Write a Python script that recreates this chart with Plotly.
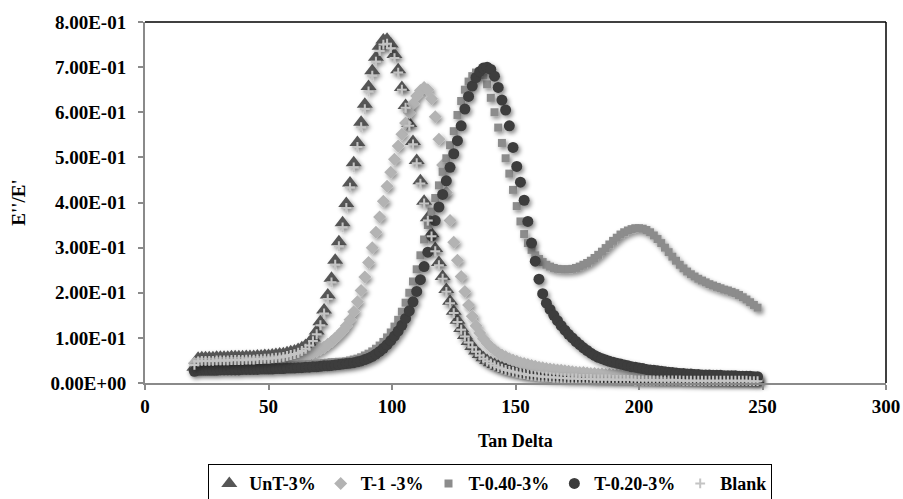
import plotly.graph_objects as go

# Temperature samples (x axis)
temp = [20.0, 21.5, 23.0, 24.5, 26.0, 27.5, 29.0, 30.5, 32.0, 33.5,
        35.0, 36.5, 38.0, 39.5, 41.0, 42.5, 44.0, 45.5, 47.0, 48.5,
        50.0, 51.5, 53.0, 54.5, 56.0, 57.5, 59.0, 60.5, 62.0, 63.5,
        65.0, 66.5, 68.0, 69.5, 71.0, 72.5, 74.0, 75.5, 77.0, 78.5,
        80.0, 81.5, 83.0, 84.5, 86.0, 87.5, 89.0, 90.5, 92.0, 93.5,
        95.0, 96.5, 98.0, 99.5, 101.0, 102.5, 104.0, 105.5, 107.0, 108.5,
        110.0, 111.5, 113.0, 114.5, 116.0, 117.5, 119.0, 120.5, 122.0, 123.5,
        125.0, 126.5, 128.0, 129.5, 131.0, 132.5, 134.0, 135.5, 137.0, 138.5,
        140.0, 141.5, 143.0, 144.5, 146.0, 147.5, 149.0, 150.5, 152.0, 153.5,
        155.0, 156.5, 158.0, 159.5, 161.0, 162.5, 164.0, 165.5, 167.0, 168.5,
        170.0, 171.5, 173.0, 174.5, 176.0, 177.5, 179.0, 180.5, 182.0, 183.5,
        185.0, 186.5, 188.0, 189.5, 191.0, 192.5, 194.0, 195.5, 197.0, 198.5,
        200.0, 201.5, 203.0, 204.5, 206.0, 207.5, 209.0, 210.5, 212.0, 213.5,
        215.0, 216.5, 218.0, 219.5, 221.0, 222.5, 224.0, 225.5, 227.0, 228.5,
        230.0, 231.5, 233.0, 234.5, 236.0, 237.5, 239.0, 240.5, 242.0, 243.5,
        245.0, 246.5, 248.0]

unt_3 = [0.035, 0.055, 0.056, 0.056, 0.056, 0.056, 0.057, 0.057, 0.057, 0.057,
         0.058, 0.058, 0.058, 0.058, 0.059, 0.059, 0.059, 0.060, 0.060, 0.061,
         0.061, 0.062, 0.063, 0.064, 0.065, 0.067, 0.069, 0.071, 0.074, 0.078,
         0.083, 0.090, 0.100, 0.115, 0.136, 0.162, 0.195, 0.232, 0.272, 0.313,
         0.355, 0.398, 0.443, 0.488, 0.533, 0.578, 0.618, 0.657, 0.692, 0.722,
         0.746, 0.760, 0.762, 0.751, 0.728, 0.694, 0.655, 0.615, 0.575, 0.535,
         0.493, 0.448, 0.403, 0.366, 0.331, 0.298, 0.267, 0.236, 0.207, 0.181,
         0.159, 0.139, 0.121, 0.105, 0.092, 0.081, 0.071, 0.063, 0.056, 0.050,
         0.045, 0.041, 0.037, 0.034, 0.031, 0.028, 0.026, 0.024, 0.022, 0.021,
         0.019, 0.018, 0.017, 0.016, 0.015, 0.015, 0.014, 0.013, 0.013, 0.012,
         0.012, 0.011, 0.011, 0.011, 0.010, 0.010, 0.010, 0.010, 0.009, 0.009,
         0.009, 0.009, 0.009, 0.008, 0.008, 0.008, 0.008, 0.008, 0.008, 0.007,
         0.007, 0.007, 0.007, 0.007, 0.007, 0.007, 0.006, 0.006, 0.006, 0.006,
         0.006, 0.006, 0.006, 0.006, 0.006, 0.006, 0.005, 0.005, 0.005, 0.005,
         0.005, 0.005, 0.005, 0.005, 0.005, 0.005, 0.005, 0.005, 0.005, 0.005,
         0.005, 0.005, 0.004]

t1_3 = [0.044, 0.045, 0.045, 0.045, 0.045, 0.045, 0.046, 0.046, 0.046, 0.046,
        0.046, 0.046, 0.047, 0.047, 0.047, 0.047, 0.048, 0.048, 0.048, 0.049,
        0.049, 0.050, 0.050, 0.051, 0.052, 0.053, 0.054, 0.055, 0.057, 0.059,
        0.061, 0.064, 0.067, 0.071, 0.075, 0.080, 0.086, 0.092, 0.099, 0.107,
        0.116, 0.127, 0.140, 0.158, 0.180, 0.205, 0.235, 0.267, 0.300, 0.334,
        0.368, 0.403, 0.436, 0.467, 0.496, 0.525, 0.551, 0.576, 0.599, 0.619,
        0.636, 0.648, 0.655, 0.650, 0.630, 0.590, 0.540, 0.483, 0.422, 0.360,
        0.312, 0.272, 0.236, 0.203, 0.173, 0.148, 0.127, 0.111, 0.098, 0.088,
        0.080, 0.073, 0.067, 0.062, 0.058, 0.054, 0.051, 0.048, 0.045, 0.043,
        0.041, 0.039, 0.037, 0.035, 0.034, 0.032, 0.031, 0.030, 0.029, 0.028,
        0.027, 0.026, 0.025, 0.024, 0.023, 0.023, 0.022, 0.021, 0.021, 0.020,
        0.020, 0.019, 0.019, 0.018, 0.018, 0.017, 0.017, 0.017, 0.016, 0.016,
        0.016, 0.015, 0.015, 0.015, 0.014, 0.014, 0.014, 0.014, 0.013, 0.013,
        0.013, 0.013, 0.013, 0.012, 0.012, 0.012, 0.012, 0.012, 0.011, 0.011,
        0.011, 0.011, 0.011, 0.011, 0.010, 0.010, 0.010, 0.010, 0.010, 0.010,
        0.010, 0.010, 0.009]

t040_3 = [0.034, 0.036, 0.036, 0.036, 0.036, 0.036, 0.036, 0.036, 0.037, 0.037,
          0.037, 0.037, 0.037, 0.037, 0.037, 0.038, 0.038, 0.038, 0.038, 0.038,
          0.038, 0.038, 0.039, 0.039, 0.039, 0.039, 0.040, 0.040, 0.040, 0.041,
          0.041, 0.042, 0.042, 0.043, 0.043, 0.044, 0.045, 0.046, 0.046, 0.047,
          0.047, 0.048, 0.050, 0.052, 0.054, 0.057, 0.061, 0.065, 0.070, 0.076,
          0.083, 0.091, 0.101, 0.112, 0.125, 0.140, 0.158, 0.178, 0.200, 0.225,
          0.252, 0.283, 0.318, 0.350, 0.380, 0.410, 0.438, 0.468, 0.498, 0.527,
          0.558, 0.594, 0.625, 0.650, 0.668, 0.680, 0.688, 0.690, 0.682, 0.662,
          0.632, 0.600, 0.566, 0.532, 0.498, 0.464, 0.428, 0.392, 0.358, 0.330,
          0.310, 0.295, 0.283, 0.275, 0.268, 0.262, 0.258, 0.255, 0.253, 0.252,
          0.252, 0.252, 0.253, 0.255, 0.258, 0.262, 0.266, 0.271, 0.277, 0.284,
          0.291, 0.299, 0.307, 0.315, 0.322, 0.329, 0.334, 0.338, 0.341, 0.343,
          0.343, 0.342, 0.339, 0.334, 0.327, 0.319, 0.310, 0.300, 0.290, 0.280,
          0.271, 0.262, 0.254, 0.247, 0.241, 0.236, 0.231, 0.227, 0.223, 0.219,
          0.216, 0.213, 0.210, 0.207, 0.205, 0.202, 0.199, 0.195, 0.190, 0.185,
          0.179, 0.173, 0.167]

t020_3 = [0.026, 0.028, 0.028, 0.028, 0.028, 0.028, 0.028, 0.029, 0.029, 0.029,
          0.029, 0.029, 0.029, 0.030, 0.030, 0.030, 0.030, 0.030, 0.031, 0.031,
          0.031, 0.031, 0.032, 0.032, 0.032, 0.033, 0.033, 0.033, 0.034, 0.034,
          0.035, 0.035, 0.036, 0.036, 0.037, 0.038, 0.038, 0.039, 0.040, 0.041,
          0.042, 0.043, 0.044, 0.045, 0.047, 0.049, 0.052, 0.055, 0.059, 0.064,
          0.070, 0.077, 0.085, 0.094, 0.104, 0.115, 0.128, 0.143, 0.160, 0.180,
          0.203, 0.229, 0.258, 0.290, 0.326, 0.360, 0.390, 0.418, 0.448, 0.478,
          0.508, 0.537, 0.570, 0.607, 0.635, 0.658, 0.677, 0.690, 0.698, 0.700,
          0.695, 0.680, 0.655, 0.627, 0.605, 0.570, 0.522, 0.480, 0.445, 0.405,
          0.358, 0.310, 0.270, 0.230, 0.198, 0.177, 0.163, 0.150, 0.138, 0.127,
          0.117, 0.108, 0.100, 0.092, 0.085, 0.078, 0.072, 0.066, 0.061, 0.057,
          0.054, 0.051, 0.048, 0.046, 0.044, 0.042, 0.040, 0.038, 0.036, 0.035,
          0.033, 0.032, 0.030, 0.029, 0.028, 0.027, 0.026, 0.025, 0.024, 0.023,
          0.022, 0.021, 0.021, 0.020, 0.020, 0.019, 0.019, 0.018, 0.018, 0.018,
          0.017, 0.017, 0.017, 0.016, 0.016, 0.016, 0.016, 0.015, 0.015, 0.015,
          0.015, 0.014, 0.014]

blank = [0.040, 0.048, 0.049, 0.049, 0.049, 0.049, 0.050, 0.050, 0.050, 0.050,
         0.051, 0.051, 0.051, 0.051, 0.052, 0.052, 0.052, 0.053, 0.053, 0.054,
         0.054, 0.055, 0.056, 0.057, 0.058, 0.060, 0.062, 0.064, 0.067, 0.071,
         0.076, 0.083, 0.093, 0.108, 0.128, 0.154, 0.186, 0.223, 0.262, 0.303,
         0.345, 0.388, 0.433, 0.478, 0.523, 0.567, 0.607, 0.646, 0.681, 0.712,
         0.736, 0.750, 0.752, 0.742, 0.720, 0.688, 0.650, 0.610, 0.570, 0.529,
         0.487, 0.442, 0.398, 0.360, 0.325, 0.292, 0.261, 0.231, 0.202, 0.177,
         0.155, 0.135, 0.118, 0.103, 0.090, 0.079, 0.069, 0.061, 0.054, 0.048,
         0.043, 0.039, 0.035, 0.032, 0.029, 0.027, 0.025, 0.023, 0.021, 0.020,
         0.018, 0.017, 0.016, 0.015, 0.014, 0.014, 0.013, 0.012, 0.012, 0.011,
         0.011, 0.010, 0.010, 0.010, 0.009, 0.009, 0.009, 0.009, 0.008, 0.008,
         0.008, 0.008, 0.008, 0.007, 0.007, 0.007, 0.007, 0.007, 0.007, 0.006,
         0.006, 0.006, 0.006, 0.006, 0.006, 0.006, 0.006, 0.006, 0.006, 0.006,
         0.006, 0.006, 0.005, 0.005, 0.005, 0.005, 0.005, 0.005, 0.005, 0.005,
         0.005, 0.005, 0.005, 0.005, 0.005, 0.005, 0.005, 0.005, 0.005, 0.005,
         0.004, 0.004, 0.004]

series_names = ["UnT-3%", "T-1 -3%", "T-0.40-3%", "T-0.20-3%", "Blank"]
y_tick_vals = [0.0, 0.1, 0.2, 0.3, 0.4, 0.5, 0.6, 0.7, 0.8]
y_tick_text = ["0.00E+00", "1.00E-01", "2.00E-01", "3.00E-01", "4.00E-01",
               "5.00E-01", "6.00E-01", "7.00E-01", "8.00E-01"]
x_tick_vals = [0, 50, 100, 150, 200, 250, 300]

for s in (unt_3, t1_3, t040_3, t020_3, blank):
    assert len(s) == len(temp), len(s)

styles = [
    dict(symbol="triangle-up", size=14, color="#565656"),
    dict(symbol="diamond", size=10, color="#b3b3b3"),
    dict(symbol="square", size=8, color="#8c8c8c"),
    dict(symbol="circle", size=11, color="#3c3c3c"),
    dict(symbol="cross-thin", size=7, color="#c4c4c4", line=dict(width=2, color="#c4c4c4")),
]

fig = go.Figure()
for name, ys, st in zip(series_names, [unt_3, t1_3, t040_3, t020_3, blank], styles):
    m = dict(st)
    if "line" not in m:
        m["line"] = dict(width=0)
    fig.add_trace(go.Scatter(x=temp, y=ys, mode="markers", name=name,
                             marker=m, cliponaxis=False))

font_fam = "Liberation Serif, Times New Roman, serif"
fig.update_layout(
    width=903, height=499,
    margin=dict(l=145, r=17, t=22, b=116, autoexpand=False),
    paper_bgcolor="white", plot_bgcolor="white",
    font=dict(family=font_fam, size=19, color="black", weight="bold"),
    showlegend=True,
    legend=dict(orientation="h", x=0.466, xanchor="center", y=-0.225, yanchor="top",
                bordercolor="black", borderwidth=1, bgcolor="white",
                font=dict(family=font_fam, size=18, color="black", weight="bold"),
                itemwidth=30, tracegroupgap=0),
    xaxis=dict(range=[0, 300], tickvals=x_tick_vals, showgrid=False, zeroline=False,
               showline=True, linecolor="#8a8a8a", linewidth=2,
               ticks="outside", ticklen=5, tickcolor="#8a8a8a", tickwidth=1.5,
               tickfont=dict(family=font_fam, size=19, color="black", weight="bold")),
    yaxis=dict(range=[0, 0.8], tickvals=y_tick_vals, ticktext=y_tick_text,
               showgrid=False, zeroline=False,
               showline=True, linecolor="#8a8a8a", linewidth=2,
               ticks="outside", ticklen=5, tickcolor="#8a8a8a", tickwidth=1.5,
               ticklabelstandoff=8,
               tickfont=dict(family=font_fam, size=19, color="black", weight="bold")),
    annotations=[
        dict(text="Tan Delta", xref="paper", yref="paper", x=0.5, y=-0.16,
             xanchor="center", yanchor="middle", showarrow=False,
             font=dict(family=font_fam, size=18, color="black", weight="bold")),
        dict(text="E''/E'", xref="paper", yref="paper", x=-0.171, y=0.5,
             xanchor="center", yanchor="middle", showarrow=False, textangle=-90,
             font=dict(family=font_fam, size=19, color="black", weight="bold")),
    ],
    shapes=[
        dict(type="line", xref="paper", yref="paper", x0=0, x1=1, y0=1, y1=1,
             line=dict(color="black", width=1.5)),
        dict(type="line", xref="paper", yref="paper", x0=1, x1=1, y0=0, y1=1,
             line=dict(color="black", width=1.5)),
    ],
)

post = """
document.documentElement.style.margin = '0';
document.body.style.margin = '0';
document.body.style.padding = '0';
var gd = document.getElementById('{plot_id}');
function addShadow(){
  var svg = gd.querySelector('svg.main-svg');
  if(!svg) return;
  var ns = 'http://www.w3.org/2000/svg';
  if(!document.getElementById('mkshadow')){
    var defs = svg.querySelector('defs');
    if(!defs){ defs = document.createElementNS(ns,'defs'); svg.insertBefore(defs, svg.firstChild); }
    var f = document.createElementNS(ns,'filter');
    f.setAttribute('id','mkshadow');
    f.setAttribute('x','-20%'); f.setAttribute('y','-20%');
    f.setAttribute('width','140%'); f.setAttribute('height','140%');
    var d = document.createElementNS(ns,'feDropShadow');
    d.setAttribute('dx','2'); d.setAttribute('dy','2.5');
    d.setAttribute('stdDeviation','2');
    d.setAttribute('flood-color','#000'); d.setAttribute('flood-opacity','0.45');
    f.appendChild(d); defs.appendChild(f);
  }
  gd.querySelectorAll('.scatterlayer .trace').forEach(function(t){ t.setAttribute('filter','url(#mkshadow)'); });
}
addShadow();
gd.on('plotly_afterplot', addShadow);
"""

fig.write_html("out.html", post_script=post, config={"displayModeBar": False})
